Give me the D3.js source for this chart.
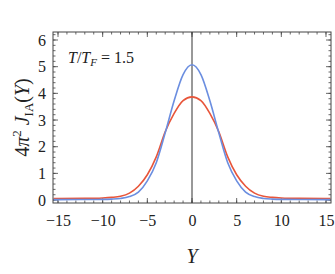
<!DOCTYPE html>
<html>
<head>
<meta charset="utf-8">
<script src="https://cdn.jsdelivr.net/npm/d3@7"></script>
<style>
  body { margin: 0; background: #fff; }
  svg text { font-family: "Liberation Serif", "Times New Roman", "DejaVu Serif", serif; fill: #222; }
</style>
</head>
<body>
<div class="chart"></div>
<script>
// Data
var yVals = [-15.5, -15, -12, -10, -9, -8, -7, -6, -5, -4, -3, -2, -1, 0, 1, 2, 3, 4, 5, 6, 7, 8, 9, 10, 12, 15, 15.5];
var blueVals = [0.015, 0.015, 0.02, 0.025, 0.035, 0.06, 0.13, 0.30, 0.72, 1.40, 2.52, 3.72, 4.70, 5.07, 4.70, 3.72, 2.52, 1.40, 0.72, 0.30, 0.13, 0.06, 0.035, 0.025, 0.02, 0.015, 0.015];
var redVals = [0.06, 0.06, 0.065, 0.08, 0.10, 0.14, 0.26, 0.52, 0.95, 1.62, 2.56, 3.25, 3.73, 3.87, 3.73, 3.25, 2.56, 1.62, 0.95, 0.52, 0.26, 0.14, 0.10, 0.08, 0.065, 0.06, 0.06];
var xTicks = [-15, -10, -5, 0, 5, 10, 15];
var yTicks = [0, 1, 2, 3, 4, 5, 6];

var serif = "Liberation Serif, Times New Roman, DejaVu Serif, serif";

var svgWidth = 335;
var svgHeight = 274;
var margin = { top: 32, right: 4, bottom: 71, left: 53 };
var width = svgWidth - margin.left - margin.right;
var height = svgHeight - margin.top - margin.bottom;

var svg = d3.select(".chart").append("svg")
  .attr("width", svgWidth)
  .attr("height", svgHeight)
  .attr("font-family", serif);

var chart = svg.append("g")
  .attr("transform", "translate(" + margin.left + "," + margin.top + ")");

var x = d3.scaleLinear().domain([-15.56, 15.56]).range([0, width]);
var y = d3.scaleLinear().domain([-0.11, 6.3]).range([height, 0]);

var frameColor = "#444";

// minor + major ticks on all four sides, pointing inward
var xMinor = d3.range(-15, 16, 1);
var yMinor = d3.range(0, 6.3, 0.2);

function tickLines(vals, isX, major, side) {
  var len = major ? 5 : 2.5;
  chart.append("g").selectAll("line").data(vals).enter().append("line")
    .attr("x1", function(d) { return isX ? x(d) : (side === "left" ? 0 : width); })
    .attr("x2", function(d) { return isX ? x(d) : (side === "left" ? len : width - len); })
    .attr("y1", function(d) { return isX ? (side === "bottom" ? height : 0) : y(d); })
    .attr("y2", function(d) { return isX ? (side === "bottom" ? height - len : len) : y(d); })
    .attr("stroke", frameColor)
    .attr("stroke-width", 0.8);
}
tickLines(xMinor, true, false, "bottom");
tickLines(xMinor, true, false, "top");
tickLines(xTicks, true, true, "bottom");
tickLines(xTicks, true, true, "top");
tickLines(yMinor, false, false, "left");
tickLines(yMinor, false, false, "right");
tickLines(yTicks, false, true, "left");
tickLines(yTicks, false, true, "right");

// tick labels via axes, lines hidden
var bottomAxis = d3.axisBottom(x).tickValues(xTicks).tickSize(0).tickPadding(12)
  .tickFormat(function(d) { return d < 0 ? "\u2212" + Math.abs(d) : String(d); });
var leftAxis = d3.axisLeft(y).tickValues(yTicks).tickSize(0).tickPadding(7)
  .tickFormat(d3.format("d"));

var gx = chart.append("g").attr("transform", "translate(0," + height + ")").call(bottomAxis);
var gy = chart.append("g").call(leftAxis);
[gx, gy].forEach(function(g) {
  g.attr("font-family", serif).attr("font-size", 16);
  g.select(".domain").remove();
  g.selectAll("text").attr("fill", "#222");
});

// vertical line at Y = 0
chart.append("line")
  .attr("x1", x(0)).attr("x2", x(0))
  .attr("y1", 0).attr("y2", height)
  .attr("stroke", "#333").attr("stroke-width", 1);

var line = d3.line().curve(d3.curveMonotoneX)
  .x(function(d) { return x(d[0]); })
  .y(function(d) { return y(d[1]); });

chart.append("defs").append("clipPath").attr("id", "clip")
  .append("rect").attr("width", width).attr("height", height);

chart.append("path")
  .datum(yVals.map(function(v, i) { return [v, redVals[i]]; }))
  .attr("clip-path", "url(#clip)")
  .attr("d", line).attr("fill", "none")
  .attr("stroke", "#e8553a").attr("stroke-width", 1.6);

chart.append("path")
  .datum(yVals.map(function(v, i) { return [v, blueVals[i]]; }))
  .attr("clip-path", "url(#clip)")
  .attr("d", line).attr("fill", "none")
  .attr("stroke", "#6b8ee0").attr("stroke-width", 1.6);

// frame
chart.append("rect")
  .attr("width", width).attr("height", height)
  .attr("fill", "none").attr("stroke", frameColor).attr("stroke-width", 1);

// annotation T/T_F = 1.5
var ann = chart.append("text").attr("x", 15).attr("y", 31).attr("font-size", 16);
ann.append("tspan").attr("font-style", "italic").text("T");
ann.append("tspan").text("/");
ann.append("tspan").attr("font-style", "italic").text("T");
ann.append("tspan").attr("font-style", "italic").attr("font-size", 11).attr("dy", 3).text("F");
ann.append("tspan").attr("dy", -3).text(" = 1.5");

// x-axis label
svg.append("text")
  .attr("x", margin.left + x(0)).attr("y", 263)
  .attr("text-anchor", "middle")
  .attr("font-size", 20).attr("font-style", "italic")
  .text("Y");

// y-axis label
var yl = svg.append("text")
  .attr("transform", "translate(29," + (margin.top + height / 2) + ") rotate(-90)")
  .attr("text-anchor", "middle")
  .attr("font-size", 20);
yl.append("tspan").text("4");
yl.append("tspan").attr("font-style", "italic").text("\u03c0");
yl.append("tspan").attr("font-size", 13).attr("dy", -8).text("2");
yl.append("tspan").attr("dy", 8).attr("font-style", "italic").text(" J");
yl.append("tspan").attr("font-size", 13).attr("dy", 4).text("IA");
yl.append("tspan").attr("dy", -4).text("(");
yl.append("tspan").attr("font-style", "italic").text("Y");
yl.append("tspan").text(")");
</script>
</body>
</html>
